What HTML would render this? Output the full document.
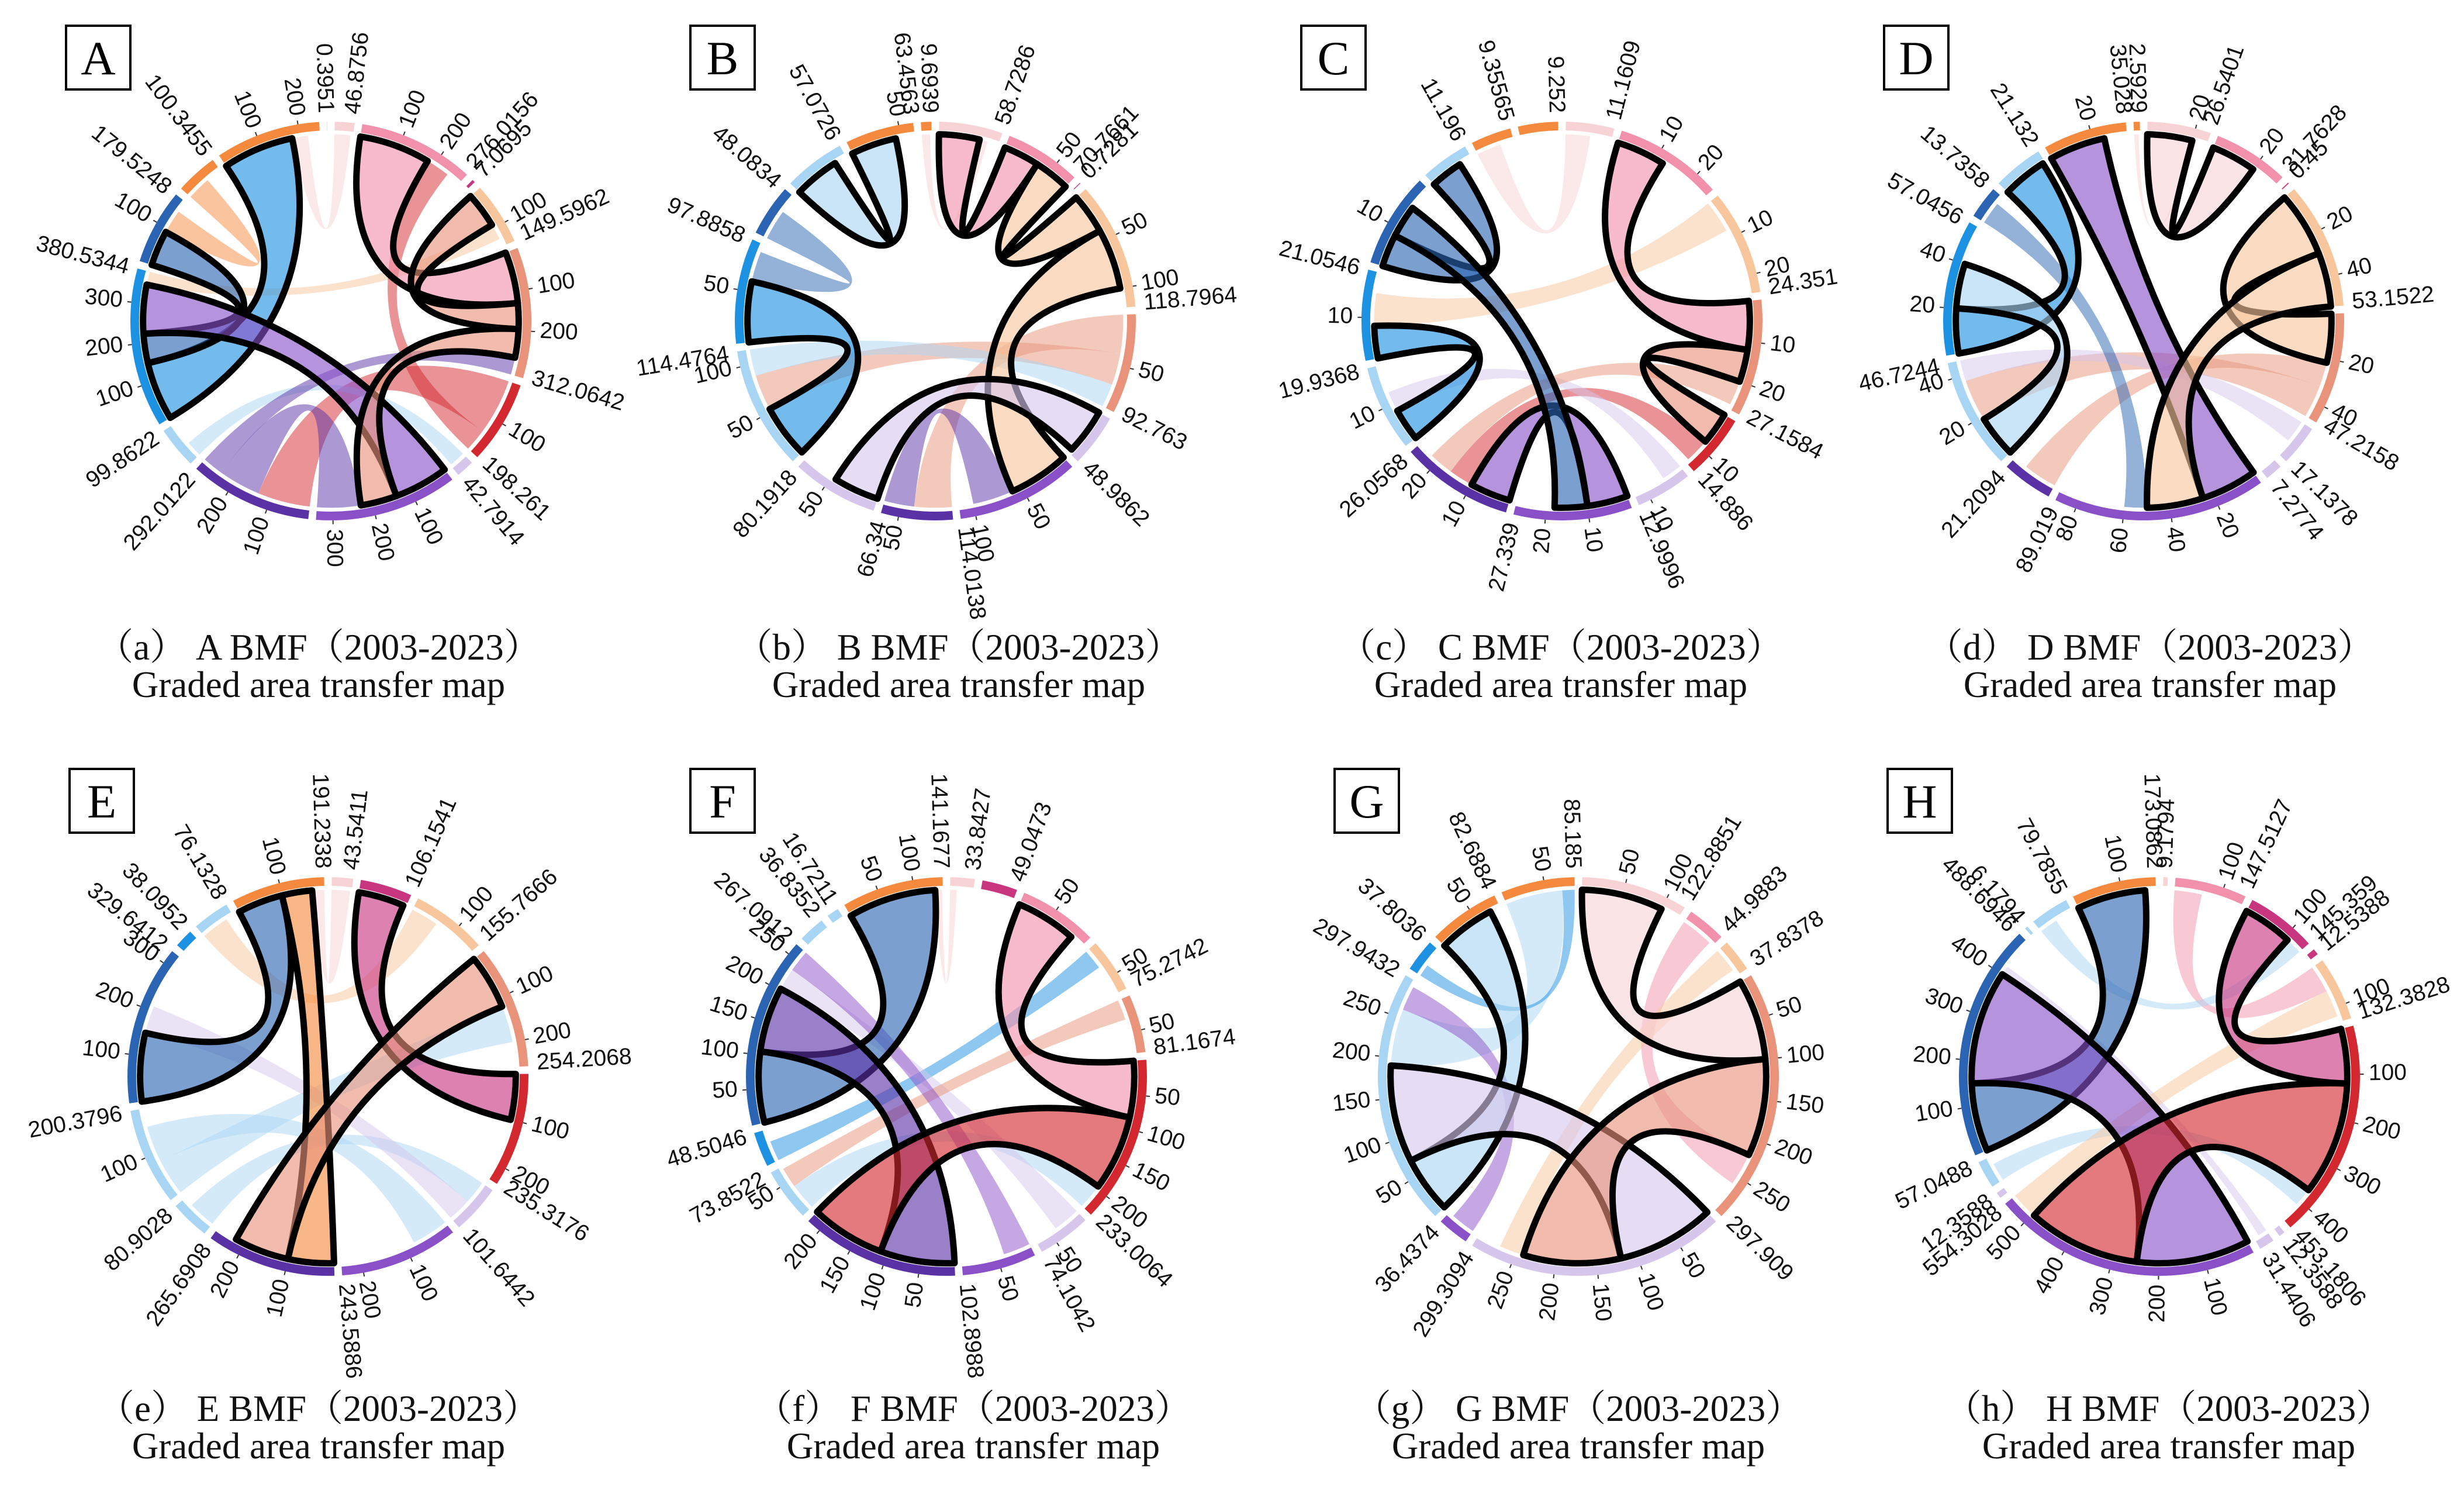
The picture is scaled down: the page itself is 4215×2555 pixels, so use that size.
<!DOCTYPE html>
<html><head><meta charset="utf-8"><style>
html,body{margin:0;padding:0;background:#fff}
svg{display:block}
</style></head><body>
<svg id="fig" xmlns="http://www.w3.org/2000/svg" width="4215" height="2555" viewBox="0 0 4215 2555">
<rect width="4215" height="2555" fill="#fff"/>
</svg>
<script>
// ---- data ----
const A_values=[46.8756,276.0156,7.0695,149.5962,312.0642,198.261,42.7914,340,292.0122,99.8622,380.5344,179.5248,100.3455,250,0.3951];
const A_labels=['46.8756','276.0156','7.0695','149.5962','312.0642','198.261','42.7914','','292.0122','99.8622','380.5344','179.5248','100.3455','','0.3951'];
const A_keys=['lp','pk','mg','pe','sa','rd','lv','pu','dp','lb','bl','db','or','or','or'];
const A_flows=[[10,13,180,1],[11,10,90,1],[7,10,150,1],[1,4,180,1],[4,3,90,1],[4,7,100,1],[5,8,150,0],[8,7,120,0],[9,6,40,0],[12,11,60,0],[0,13,40,0],[3,10,40,0],[5,1,60,0],[8,4,60,0]];

const B_values=[58.7286,70.7661,0.7281,118.7964,92.763,48.9862,114.0138,66.34,80.1918,114.4764,97.8858,48.0834,57.0726,63.4563,9.6939];
const B_labels=['58.7286','70.7661','0.7281','118.7964','92.763','48.9862','114.0138','66.34','80.1918','114.4764','97.8858','48.0834','57.0726','63.4563','9.6939'];
const B_keys=['lp','pk','mg','pe','sa','lv','pu','dp','lv','lb','bl','db','lb','or','or'];
const B_flows=[[1,0,40,1],[3,1,40,1],[3,6,60,1],[12,13,45,1],[8,5,45,1],[10,9,60,1],[4,7,50,0],[4,9,40,0],[7,6,40,0],[11,10,30,0],[0,14,8,0],[9,4,30,0]];

const C_values=[11.1609,25,24.351,27.1584,14.886,12.9996,27.339,26.0568,19.9368,21.0546,22,11.196,9.35565,9.252];
const C_labels=['11.1609','','24.351','27.1584','14.886','12.9996','27.339','26.0568','19.9368','21.0546','','11.196','9.35565','9.252'];
const C_keys=['lp','pk','pe','sa','rd','lv','pu','dp','lb','bl','db','lb','or','or'];
const C_flows=[[1,3,12,1],[3,4,8,1],[6,7,10,1],[10,11,8,1],[9,8,8,1],[10,6,8,1],[0,12,6,0],[2,9,8,0],[4,7,6,0],[5,8,5,0],[3,7,6,0]];

const D_values=[26.5401,31.7628,0.45,53.1522,47.2158,17.1378,7.2774,89.019,21.2094,46.7244,57.0456,13.7358,21.132,35.028,2.5929];
const D_labels=['26.5401','31.7628','0.45','53.1522','47.2158','17.1378','7.2774','89.019','21.2094','46.7244','57.0456','13.7358','21.132','35.028','2.5929'];
const D_keys=['lp','pk','mg','pe','sa','lv','lv','pu','dp','lb','bl','db','lb','or','or'];
const D_flows=[[0,1,20,1],[3,4,30,1],[7,13,25,1],[3,7,25,1],[10,12,20,1],[9,10,20,1],[4,8,15,0],[4,9,20,0],[5,9,10,0],[11,7,10,0],[0,14,2,0]];

const E_values=[43.5411,106.1541,155.7666,254.2068,235.3176,101.6442,243.5886,265.6908,80.9028,200.3796,329.6412,38.0952,76.1328,191.2338];
const E_labels=['43.5411','106.1541','155.7666','254.2068','235.3176','101.6442','243.5886','265.6908','80.9028','200.3796','329.6412','38.0952','76.1328','191.2338'];
const E_keys=['lp','mg','pe','sa','rd','lv','pu','dp','lb','lb','db','bl','lb','or'];
const E_flows=[[1,4,100,1],[10,13,150,1],[13,7,100,1],[3,7,120,1],[9,3,80,0],[8,5,60,0],[9,6,80,0],[2,12,60,0],[5,10,60,0],[0,13,40,0]];

const F_values=[33.8427,49.0473,110,75.2742,81.1674,233.0064,74.1042,102.8988,220,73.8522,48.5046,267.0912,36.8352,16.7211,141.1677];
const F_labels=['33.8427','49.0473','','75.2742','81.1674','233.0064','74.1042','102.8988','','73.8522','48.5046','267.0912','36.8352','16.7211','141.1677'];
const F_keys=['lp','mg','pk','pe','sa','rd','lv','pu','dp','lb','bl','db','lb','lb','or'];
const F_flows=[[2,5,90,1],[11,14,130,1],[8,11,120,1],[5,8,120,1],[9,5,40,0],[10,3,30,0],[6,11,40,0],[4,9,30,0],[0,14,10,0],[7,11,40,0]];

const G_values=[122.8851,44.9883,37.8378,297.909,299.3094,36.4374,297.9432,37.8036,82.6884,85.185];
const G_labels=['122.8851','44.9883','37.8378','297.909','299.3094','36.4374','297.9432','37.8036','82.6884','85.185'];
const G_keys=['lp','pk','pe','sa','lv','pu','lb','bl','or','or'];
const G_flows=[[0,3,100,1],[6,8,70,1],[4,6,120,1],[3,4,120,1],[6,9,70,0],[1,3,40,0],[2,4,30,0],[5,6,30,0],[7,9,15,0]];

const H_values=[9.1794,147.5127,145.359,12.5388,132.3828,453.1806,12.3588,31.4406,554.3028,12.3588,57.0488,488.6946,6.1794,79.7855,173.0862];
const H_labels=['9.1794','147.5127','145.359','12.5388','132.3828','453.1806','12.3588','31.4406','554.3028','12.3588','57.0488','488.6946','6.1794','79.7855','173.0862'];
const H_keys=['lp','pk','mg','mg','pe','rd','lv','lv','pu','lv','lb','db','lb','lb','or'];
const H_flows=[[2,5,120,1],[11,14,150,1],[8,11,250,1],[5,8,250,1],[1,4,60,0],[10,5,40,0],[13,2,40,0],[7,11,20,0],[4,8,60,0]];

const tickSteps=[100,50,10,20,100,50,50,100];
const captionLetters=['a','b','c','d','e','f','g','h'];
const panelIds=['A','B','C','D','E','F','G','H'];

// ---- styles / layout ----
const COL={lp:'#f8d3d6',pk:'#f291ab',mg:'#c8367f',pe:'#f8c69c',sa:'#e8937a',rd:'#d3282f',lv:'#d6c6ec',pu:'#8950c8',dp:'#5a32a6',lb:'#a9d5f4',bl:'#1e92e2',db:'#2a64b2',or:'#f58a3e'};
const layout=[
 {cx:566,cy:549,bx:113,by:44,tx:545,ty:1128},{cx:1600,cy:549,bx:1181,by:44,tx:1640,ty:1128},{cx:2672,cy:549,bx:2226,by:44,tx:2670,ty:1128},{cx:3667,cy:549,bx:3223,by:44,tx:3678,ty:1128},
 {cx:561,cy:1841,bx:119,by:1315,tx:545,ty:2430},{cx:1619,cy:1841,bx:1181,by:1315,tx:1665,ty:2430},{cx:2700,cy:1841,bx:2283,by:1315,tx:2700,ty:2430},{cx:3694,cy:1841,bx:3229,by:1315,tx:3710,ty:2430}];
const datasets=[[A_values,A_labels,A_keys,A_flows],[B_values,B_labels,B_keys,B_flows],[C_values,C_labels,C_keys,C_flows],[D_values,D_labels,D_keys,D_flows],
 [E_values,E_labels,E_keys,E_flows],[F_values,F_labels,F_keys,F_flows],[G_values,G_labels,G_keys,G_flows],[H_values,H_labels,H_keys,H_flows]];

const NS='http://www.w3.org/2000/svg';
const svg=document.getElementById('fig');
function mk(tag,attrs,parent){const e=document.createElementNS(NS,tag);for(const k in attrs)e.setAttribute(k,attrs[k]);parent.appendChild(e);return e;}
const RX=333,RY=331,GAP=2.2;

datasets.forEach((ds,pi)=>{
 const [vals,labs,keys,flows]=ds;const L=layout[pi];const step=tickSteps[pi];
 const g=mk('g',{},svg);
 
 
 const pt=(th,k)=>{const r=th*Math.PI/180;return [L.cx+RX*k*Math.sin(r),L.cy-RY*k*Math.cos(r)];};
 const n=vals.length;const tot=vals.reduce((a,b)=>a+b,0);const avail=360-n*GAP;
 const starts=[],spans=[];let th=GAP/2;
 vals.forEach(v=>{starts.push(th);const s=v/tot*avail;spans.push(s);th+=s+GAP;});
 const used=new Array(n).fill(0);flows.forEach(f=>{used[f[0]]+=f[2];used[f[1]]+=f[2];});
 const cur=starts.slice();
 const alloc=(i,v)=>{const sc=spans[i]/Math.max(vals[i],used[i]);const a=cur[i];cur[i]+=v*sc;return [a,cur[i]];};
 const K=0.965;
 const ribbons=flows.map(f=>({f,a:alloc(f[0],f[2]),b:alloc(f[1],f[2])}));
 const rib=(o)=>{const [a1,a2]=o.a,[b1,b2]=o.b;const p1=pt(a1,K),p2=pt(a2,K),q1=pt(b1,K),q2=pt(b2,K);
  const rx=RX*K,ry=RY*K;const la=(a2-a1)>180?1:0,lb=(b2-b1)>180?1:0;
  return `M${p1[0]},${p1[1]} A${rx},${ry} 0 ${la} 1 ${p2[0]},${p2[1]} Q${L.cx},${L.cy} ${q1[0]},${q1[1]} A${rx},${ry} 0 ${lb} 1 ${q2[0]},${q2[1]} Q${L.cx},${L.cy} ${p1[0]},${p1[1]} Z`;};
 [0,1].forEach(h=>ribbons.filter(o=>o.f[3]===h).forEach(o=>{
  const p=mk('path',{d:rib(o),fill:COL[keys[o.f[0]]],'fill-opacity':h?0.62:0.5,stroke:h?'#000':'none','stroke-width':h?11:0,'stroke-linejoin':'round'},g);
  
  
 }));
 vals.forEach((v,i)=>{
  const s=starts[i],e=s+spans[i];const k1=0.985,k2=1.03;
  const o1=pt(s,k2),o2=pt(e,k2),i2=pt(e,k1),i1=pt(s,k1);const la=spans[i]>180?1:0;
  const arc=mk('path',{d:`M${o1[0]},${o1[1]} A${RX*k2},${RY*k2} 0 ${la} 1 ${o2[0]},${o2[1]} L${i2[0]},${i2[1]} A${RX*k1},${RY*k1} 0 ${la} 0 ${i1[0]},${i1[1]} Z`,fill:COL[keys[i]]},g);
  
  
  const sc=spans[i]/v;
  const lbl=(t,theta)=>{const p=pt(theta,1.075);const right=theta<180;const rot=right?theta-90:theta+90;
   const tx=mk('text',{x:p[0],y:p[1],'font-family':'Liberation Sans, sans-serif','font-size':39,'text-anchor':right?'start':'end','dominant-baseline':'middle',transform:`rotate(${rot} ${p[0]} ${p[1]})`,fill:'#111'},g);
   tx.textContent=t;return tx;};
  for(let t=step;t<v-step*0.25;t+=step){const a=s+t*sc;const p1=pt(a,1.03),p2=pt(a,1.05);
   const tk=mk('line',{x1:p1[0],y1:p1[1],x2:p2[0],y2:p2[1],stroke:'#333','stroke-width':2},g);
   
   
   const tl=lbl(String(t),a);
   
   }
  if(labs[i]){const tl=lbl(labs[i],e-0.6);
   
   }
 });
 const bx=mk('rect',{x:L.bx,y:L.by,width:110,height:109,fill:'#fff',stroke:'#000','stroke-width':4},g);
 
 
 const bt=mk('text',{x:L.bx+55,y:L.by+83,'font-family':'Liberation Serif, serif','font-size':82,'text-anchor':'middle'},g);
 bt.textContent=panelIds[pi];
 
 
 const c1=mk('text',{x:L.tx,y:L.ty,'font-family':'Liberation Serif, Noto Serif CJK SC, serif','font-size':63,'text-anchor':'middle',fill:'#111'},g);
 c1.textContent='（'+captionLetters[pi]+'） '+panelIds[pi]+' BMF（2003-2023）';
 
 
 const c2=mk('text',{x:L.tx,y:L.ty+64,'font-family':'Liberation Serif, serif','font-size':63,'text-anchor':'middle',fill:'#111'},g);
 c2.textContent='Graded area transfer map';
 
 
});
</script>
</body></html>
